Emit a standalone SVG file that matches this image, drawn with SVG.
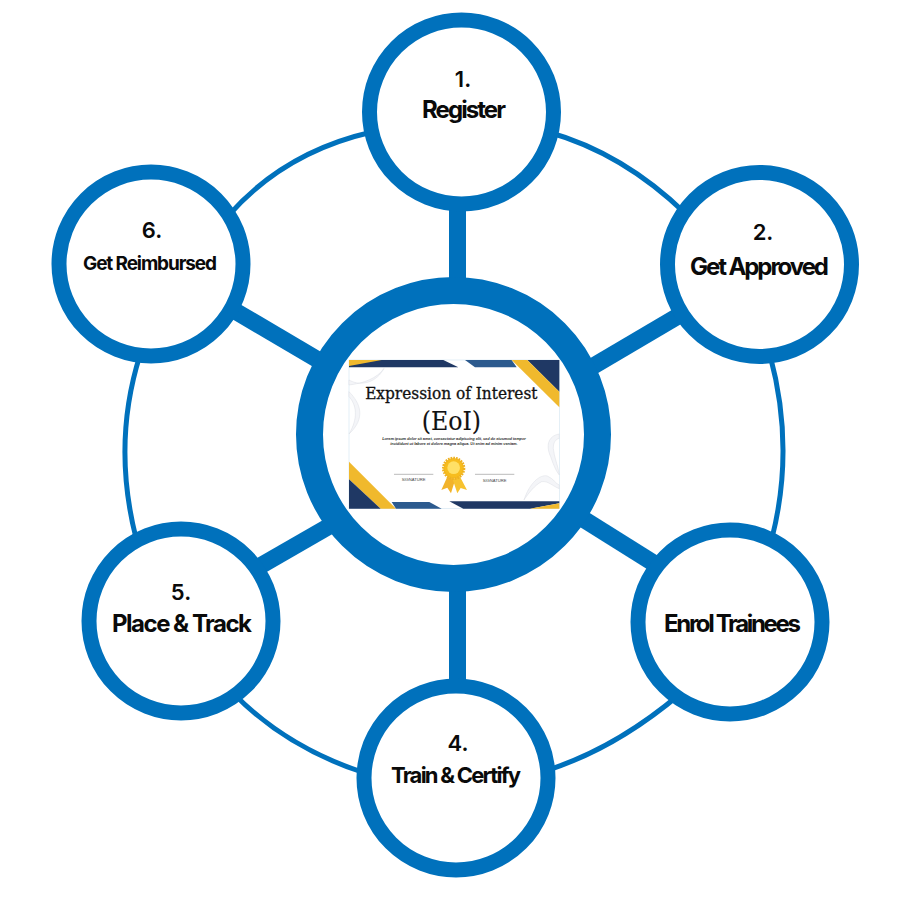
<svg xmlns="http://www.w3.org/2000/svg" width="900" height="900" viewBox="0 0 900 900">
<style>
.ring{fill:#fff;stroke:#0071bc;stroke-width:15}
.spoke{stroke:#0071bc;stroke-width:17;fill:none}
.orbit{stroke:#0071bc;stroke-width:5;fill:none}
text{font-family:Inter,"Liberation Sans",sans-serif;font-weight:700;fill:#0a0a0a;text-anchor:middle}
.num{font-size:22px;font-weight:600}
.lab{font-size:24px}
.sm{font-size:19px}
.ser{font-family:"DejaVu Serif","Liberation Serif",serif;font-weight:400;fill:#111;stroke:#111}
.tiny{font-family:"Liberation Sans",sans-serif;font-style:italic;font-weight:700;font-size:12px;fill:#333}
.sig{font-family:"Liberation Sans",sans-serif;font-weight:400;font-size:12.5px;fill:#444}
.sw{fill:#f4f5f8;stroke:#d3d7de;stroke-width:1.2}
</style>
<rect width="900" height="900" fill="#fff"/>
<g id="connectors">
<path class="orbit" d="M228 216Q284 152 372 132"/>
<path class="orbit" d="M548 132Q623 153 686 214"/>
<path class="orbit" d="M770 355Q795 447.500 772 538"/>
<path class="orbit" d="M680 694Q616 748 548 770"/>
<path class="orbit" d="M362 772Q286 747 234 694"/>
<path class="orbit" d="M136 538Q112 443.500 140 355"/>
<line class="spoke" x1="457.500" y1="200" x2="457.500" y2="290"/>
<line class="spoke" x1="590" y1="368" x2="685" y2="312"/>
<line class="spoke" x1="580" y1="517" x2="655" y2="564"/>
<line class="spoke" x1="457.500" y1="580" x2="457.500" y2="690"/>
<line class="spoke" x1="255" y1="569" x2="340" y2="520"/>
<line class="spoke" x1="235" y1="311" x2="325" y2="364"/>
</g>
<g id="node-1"><circle class="ring" cx="461.500" cy="112" r="92"/><text class="num" x="463" y="87">1.</text><text class="lab" x="464" y="118" textLength="84">Register</text></g>
<g id="node-2"><circle class="ring" cx="759.500" cy="264.500" r="92"/><text class="num" x="763" y="240">2.</text><text class="lab" x="759.500" y="275" textLength="139">Get Approved</text></g>
<g id="node-3"><circle class="ring" cx="730" cy="622" r="92"/><text class="lab" x="732.500" y="632" textLength="137">Enrol Trainees</text></g>
<g id="node-4"><circle class="ring" cx="456" cy="778" r="92"/><text class="num" x="458" y="751">4.</text><text class="lab" x="456" y="783" textLength="130" style="font-size:22px">Train &amp; Certify</text></g>
<g id="node-5"><circle class="ring" cx="181" cy="621" r="92"/><text class="num" x="181" y="600">5.</text><text class="lab" x="182" y="632" textLength="140">Place &amp; Track</text></g>
<g id="node-6"><circle class="ring" cx="151" cy="264" r="92"/><text class="num" x="152" y="238">6.</text><text class="sm" x="150" y="270" textLength="134">Get Reimbursed</text></g>
<g id="node-center">
<circle cx="453.500" cy="434.500" r="144" fill="#fff" stroke="#0071bc" stroke-width="27"/>
<g id="certificate" transform="translate(340 350) scale(0.3333)">
<rect x="27" y="30" width="631" height="446" fill="#fff" stroke="#d6e6f2" stroke-width="2"/>
<path class="sw" d="M27 90C65 112 112 95 132 55C112 85 70 100 27 105Z"/>
<path class="sw" d="M27 125C62 160 78 205 27 252C55 205 50 165 27 140Z"/>
<path class="sw" d="M658 252C622 258 618 290 632 320C642 350 650 365 658 375C654 345 642 320 640 295C640 275 648 268 658 265Z"/>
<path class="sw" d="M552 450C568 400 600 372 622 378C640 385 648 402 658 405V416C640 410 625 392 605 395C585 405 565 430 552 450Z"/>
<path fill="#1f3864" d="M27 30H310L355 52H27Z"/>
<path fill="#f0b92d" d="M27 30H125L27 48Z"/>
<path fill="#2c5a8e" d="M375 30H515L530 52H405Z"/>
<path fill="#1f3864" d="M562 30H658V125Z"/>
<path fill="#f0b92d" d="M515 30H562L658 125V172Z"/>
<path fill="#f0b92d" d="M27 335L168 476H122L27 388Z"/>
<path fill="#1f3864" d="M27 388L122 476H27Z"/>
<path fill="#2c5a8e" d="M155 456H268L305 476H168Z"/>
<path fill="#1f3864" d="M328 454H658V460L570 476H370Z"/>
<path fill="#f0b92d" d="M570 476L658 460V476Z"/>
<text class="ser" x="334" y="146" textLength="517" lengthAdjust="spacingAndGlyphs" style="font-size:50px;stroke-width:1">Expression of Interest</text>
<text class="ser" x="334" y="240" textLength="178" lengthAdjust="spacingAndGlyphs" style="font-size:80px;stroke-width:.4">(EoI)</text>
<text class="tiny" x="342" y="270" textLength="431">Lorem ipsum dolor sit amet, consectetur adipiscing elit, sed do eiusmod tempor</text>
<text class="tiny" x="342" y="285" textLength="382">incididunt ut labore et dolore magna aliqua. Ut enim ad minim veniam.</text>
<line x1="162" y1="373" x2="280" y2="373" stroke="#999" stroke-width="2"/>
<line x1="405" y1="373" x2="523" y2="373" stroke="#999" stroke-width="2"/>
<text class="sig" x="221" y="392">SIGNATURE</text>
<text class="sig" x="464" y="397">SIGNATURE</text>
<path fill="#f2b32a" d="M322 380L304 420L322 413L333 430L346 388Z"/>
<path fill="#f7c22f" d="M360 380L381 420L362 414L352 430L338 388Z"/>
<circle cx="341" cy="355" r="31" fill="#f7bd1e" stroke="#eeb122" stroke-width="8" stroke-dasharray="5 3"/>
<circle cx="341" cy="353" r="19" fill="#ffe066"/>
</g>
</g>
</svg>
